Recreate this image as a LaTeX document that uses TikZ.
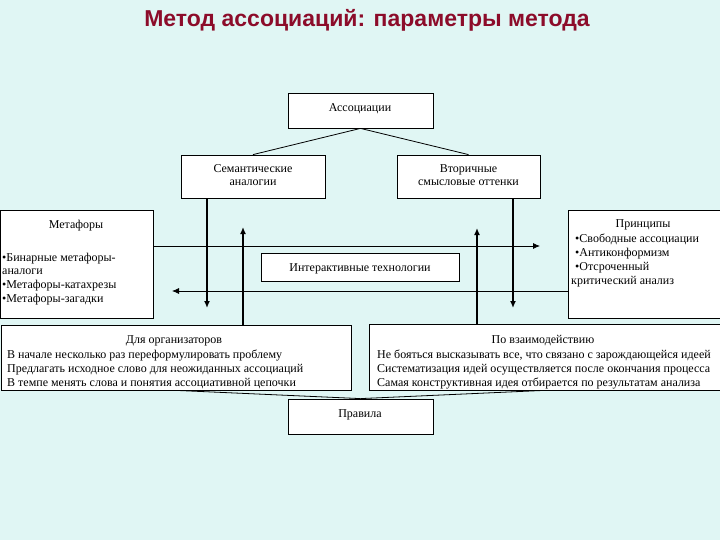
\documentclass[tikz,border=0pt]{standalone}
\usepackage{fontspec}
\setmainfont{Liberation Serif}
\newfontfamily\titlefont{Liberation Sans}
\usetikzlibrary{arrows.meta}
\definecolor{bgcol}{RGB}{224,246,244}
\definecolor{titlered}{RGB}{140,12,42}
\begin{document}
\begin{tikzpicture}[x=1pt,y=-1pt,
  box/.style={draw=black, fill=white, line width=0.8pt, inner sep=0pt},
  txt/.style={inner sep=0pt, font=\fontsize{12}{14}\selectfont},
  bigarr/.style={line width=1.8pt, -{Latex[length=7pt,width=6pt]}},
  thinarr/.style={line width=0.8pt, -{Latex[length=7pt,width=6pt]}},
  link/.style={line width=0.8pt}]
\fill[bgcol] (0,0) rectangle (720,540);
\useasboundingbox (0,0) rectangle (720,540);

% title
\node[anchor=base, inner sep=0pt, font=\titlefont\bfseries\fontsize{23}{26}\selectfont, text=titlered] (title) at (367,27) {Метод ассоциаций: параметры метода};

% boxes
\node[box, minimum width=145pt, minimum height=35pt] (assoc) at (360.5,110.5) {};
\node[box, minimum width=144pt, minimum height=43pt] (sem) at (253,176.5) {};
\node[box, minimum width=143pt, minimum height=43pt] (vt) at (468.5,176.5) {};
\node[box, minimum width=153pt, minimum height=108pt] (met) at (76.5,264) {};
\node[box, minimum width=152pt, minimum height=108pt] (prin) at (644,264) {};
\node[box, minimum width=198pt, minimum height=28pt] (inter) at (360,267) {};
\node[box, minimum width=350pt, minimum height=65pt] (org) at (176,357.5) {};
\node[box, minimum width=351pt, minimum height=66pt] (vz) at (544.5,357) {};
\node[box, minimum width=145pt, minimum height=35pt] (prav) at (360.5,416.5) {};

% texts
\node[txt, anchor=base] (assocT) at (360,112) {Ассоциации};
\node[txt, anchor=base] (semT1) at (253,173) {Семантические};
\node[txt, anchor=base] (semT2) at (253,186) {аналогии};
\node[txt, anchor=base] (vtT1) at (468.5,173) {Вторичные};
\node[txt, anchor=base] (vtT2) at (468.5,186) {смысловые оттенки};

\node[txt, anchor=base] (metH) at (76,229) {Метафоры};
\node[txt, anchor=base west] (metL1) at (2,261) {•Бинарные метафоры-};
\node[txt, anchor=base west] (metL2) at (2,274) {аналоги};
\node[txt, anchor=base west] (metL3) at (2,288) {•Метафоры-катахрезы};
\node[txt, anchor=base west] (metL4) at (2,302) {•Метафоры-загадки};

\node[txt, anchor=base] (prinH) at (643,228) {Принципы};
\node[txt, anchor=base west] (prinL1) at (575,242) {•Свободные ассоциации};
\node[txt, anchor=base west] (prinL2) at (575,256) {•Антиконформизм};
\node[txt, anchor=base west] (prinL3) at (575,270) {•Отсроченный};
\node[txt, anchor=base west] (prinL4) at (571,284) {критический анализ};

\node[txt, anchor=base] (interT) at (360,271) {Интерактивные технологии};

\node[txt, anchor=base] (orgH) at (174,343) {Для организаторов};
\node[txt, anchor=base west] (orgL1) at (7,358) {В начале несколько раз переформулировать проблему};
\node[txt, anchor=base west] (orgL2) at (7,372) {Предлагать исходное слово для неожиданных ассоциаций};
\node[txt, anchor=base west] (orgL3) at (7,386) {В темпе менять слова и понятия ассоциативной цепочки};

\node[txt, anchor=base] (vzH) at (543,343) {По взаимодействию};
\node[txt, anchor=base west] (vzL1) at (377,358) {Не бояться высказывать все, что связано с зарождающейся идеей};
\node[txt, anchor=base west] (vzL2) at (377,372) {Систематизация идей осуществляется после окончания процесса};
\node[txt, anchor=base west] (vzL3) at (377,386) {Самая конструктивная идея отбирается по результатам анализа};

\node[txt, anchor=base] (pravT) at (360,417) {Правила};

% connectors
\draw[link] (assoc.south) -- (sem.north);
\draw[link] (assoc.south) -- (vt.north);
\draw[link] (prav.north) -- (org.south);
\draw[link] (prav.north) -- (vz.south);

\coordinate (h1e) at (540,246);
\coordinate (h2e) at (172,291);
\draw[thinarr] (h1e -| met.east) -- (h1e);
\draw[thinarr] (h2e -| prin.west) -- (h2e);

\coordinate (v1e) at (207,308);
\coordinate (v2e) at (243,227);
\coordinate (v3e) at (477,228);
\coordinate (v4e) at (513,308);
\draw[bigarr] (v1e |- sem.south) -- (v1e);
\draw[bigarr] (v2e |- org.north) -- (v2e);
\draw[bigarr] (v3e |- vz.north) -- (v3e);
\draw[bigarr] (v4e |- vt.south) -- (v4e);
\end{tikzpicture}
\end{document}
